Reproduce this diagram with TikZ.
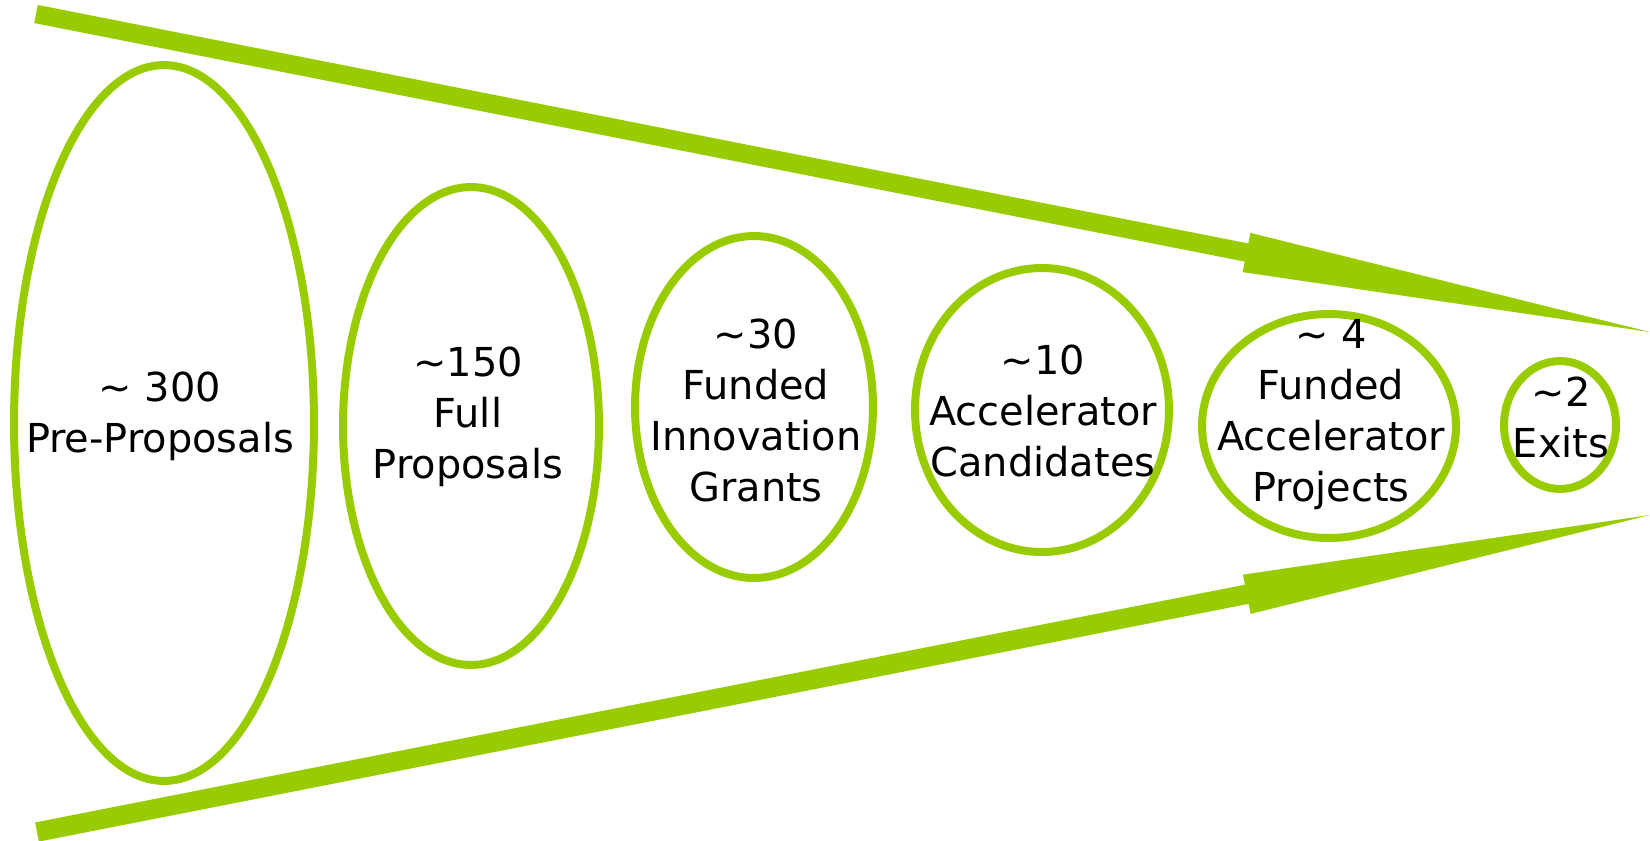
\documentclass[tikz,border=0pt]{standalone}
\usepackage{fontspec}
\setmainfont{DejaVu Sans}
\usetikzlibrary{shapes.geometric,calc}
\definecolor{funnelgreen}{RGB}{153,204,0}
\newcommand{\apx}{\textasciitilde}
% centred stack of lines whose baseline is that of the last line
\newcommand{\lines}[1]{\begin{tabular}[b]{@{}c@{}}#1\end{tabular}}
\begin{document}
\begin{tikzpicture}[x=0.02cm,y=-0.02cm,
  stage/.style={draw=funnelgreen,line width=0.16cm,ellipse,inner sep=0pt,outer sep=0pt},
  lbl/.style={anchor=base,inner sep=0pt,
    font=\fontsize{22.7pt}{29pt}\selectfont}]
\useasboundingbox (0,0) rectangle (1650,840);

% stages of the funnel
\node[stage,minimum width=6.00cm,minimum height=14.32cm] (e1) at (164,423) {};
\node[stage,minimum width=5.12cm,minimum height=9.56cm]  (e2) at (471,426) {};
\node[stage,minimum width=4.76cm,minimum height=6.84cm]  (e3) at (754,407) {};
\node[stage,minimum width=5.08cm,minimum height=5.68cm]  (e4) at (1042,410) {};
\node[stage,minimum width=5.08cm,minimum height=4.48cm]  (e5) at (1329,426) {};
\node[stage,minimum width=2.24cm,minimum height=2.56cm]  (e6) at (1560,425) {};

% labels, placed by the baseline of their last line
\node[lbl] (t1) at (160,452)  {\lines{\apx{} 300\\Pre-Proposals}};
\node[lbl] (t2) at (468,478)  {\lines{\apx{}150\\Full\\Proposals}};
\node[lbl] (t3) at (756,501)  {\lines{\apx{}30\\Funded\\Innovation\\Grants}};
\node[lbl] (t4) at (1043,476) {\lines{\apx{}10\\Accelerator\\Candidates}};
\node[lbl] (t5) at (1331,501) {\lines{\apx{} 4\\Funded\\Accelerator\\Projects}};
\node[lbl] (t6) at (1561,457) {\lines{\apx{}2\\Exits}};

% converging arrows
\coordinate (ts) at (36,14);
\coordinate (tt) at (1650,332);
\coordinate (tb) at ($(ts)!0.75!(tt)$);
\coordinate (bs) at (37,832);
\coordinate (bt) at (1650,515);
\coordinate (bb) at ($(bs)!0.75!(bt)$);

\fill[funnelgreen]
  ($(ts)!0.185cm!90:(tt)$) -- ($(tb)!0.185cm!-90:(ts)$) -- ($(tb)!0.4cm!-90:(ts)$)
  -- (tt) -- ($(tb)!0.4cm!90:(ts)$) -- ($(tb)!0.185cm!90:(ts)$)
  -- ($(ts)!0.185cm!-90:(tt)$) -- cycle;
\fill[funnelgreen]
  ($(bs)!0.195cm!90:(bt)$) -- ($(bb)!0.195cm!-90:(bs)$) -- ($(bb)!0.4cm!-90:(bs)$)
  -- (bt) -- ($(bb)!0.4cm!90:(bs)$) -- ($(bb)!0.195cm!90:(bs)$)
  -- ($(bs)!0.195cm!-90:(bt)$) -- cycle;
\end{tikzpicture}
\end{document}
